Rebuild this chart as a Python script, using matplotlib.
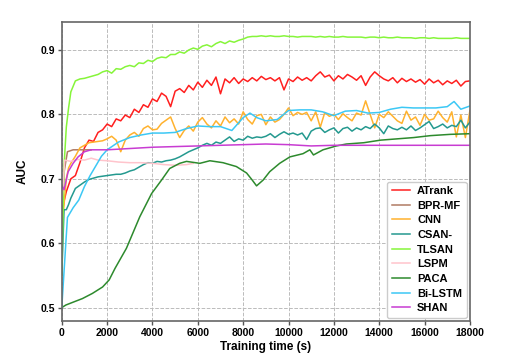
import numpy as np
import matplotlib
matplotlib.use('Agg')
import matplotlib.pyplot as plt

plt.rcParams['font.family'] = ['Liberation Sans', 'DejaVu Sans']
plt.rcParams['font.weight'] = 'bold'

# noisy series share one time grid: a few early points, then every 200 s
t_early = [0, 100, 200, 300, 400, 600, 800]
t_grid = t_early + list(range(1000, 18001, 200))

atrank = [0.640, 0.665, 0.680, 0.690, 0.700, 0.705, 0.725,
          0.748, 0.760, 0.758, 0.772, 0.776, 0.785, 0.781, 0.793, 0.790, 0.799,
          0.795, 0.808, 0.803, 0.815, 0.811, 0.824, 0.820, 0.833, 0.828, 0.812,
          0.836, 0.840, 0.834, 0.845, 0.838, 0.850, 0.842, 0.853, 0.845, 0.858,
          0.832, 0.855, 0.849, 0.857, 0.848, 0.855, 0.851, 0.857, 0.852, 0.859,
          0.854, 0.857, 0.852, 0.857, 0.838, 0.855, 0.851, 0.858, 0.853, 0.857,
          0.852, 0.860, 0.866, 0.858, 0.861, 0.852, 0.860, 0.855, 0.862, 0.858,
          0.853, 0.860, 0.845, 0.858, 0.866, 0.860, 0.855, 0.852, 0.857, 0.849,
          0.856, 0.851, 0.855, 0.850, 0.854, 0.847, 0.855, 0.849, 0.853, 0.846,
          0.852, 0.848, 0.853, 0.844, 0.851, 0.852]

cnn = [0.620, 0.660, 0.700, 0.717, 0.724, 0.735, 0.748,
       0.752, 0.756, 0.757, 0.758, 0.759, 0.762, 0.766, 0.760, 0.742, 0.760,
       0.768, 0.772, 0.766, 0.778, 0.782, 0.776, 0.777, 0.786, 0.791, 0.796,
       0.778, 0.764, 0.775, 0.782, 0.774, 0.788, 0.795, 0.785, 0.779, 0.790,
       0.782, 0.796, 0.787, 0.793, 0.785, 0.804, 0.792, 0.785, 0.798, 0.800,
       0.784, 0.796, 0.788, 0.792, 0.800, 0.810, 0.798, 0.803, 0.800, 0.803,
       0.790, 0.804, 0.780, 0.803, 0.797, 0.800, 0.792, 0.801, 0.795, 0.790,
       0.802, 0.799, 0.821, 0.800, 0.779, 0.800, 0.795, 0.804, 0.797, 0.790,
       0.786, 0.805, 0.791, 0.796, 0.783, 0.800, 0.791, 0.793, 0.805, 0.795,
       0.788, 0.804, 0.765, 0.799, 0.764, 0.806]

csan = [0.550, 0.652, 0.652, 0.660, 0.670, 0.685, 0.690,
        0.695, 0.699, 0.701, 0.703, 0.704, 0.705, 0.706, 0.707, 0.707, 0.709,
        0.712, 0.714, 0.718, 0.722, 0.725, 0.724, 0.727, 0.726, 0.728, 0.729,
        0.731, 0.734, 0.738, 0.742, 0.745, 0.748, 0.752, 0.755, 0.752, 0.757,
        0.755, 0.760, 0.765, 0.758, 0.762, 0.760, 0.766, 0.763, 0.765, 0.764,
        0.766, 0.770, 0.764, 0.769, 0.773, 0.769, 0.771, 0.768, 0.771, 0.761,
        0.774, 0.778, 0.779, 0.772, 0.776, 0.779, 0.771, 0.778, 0.780, 0.774,
        0.779, 0.776, 0.781, 0.778, 0.785, 0.779, 0.770, 0.782, 0.778, 0.776,
        0.780, 0.776, 0.782, 0.775, 0.779, 0.784, 0.789, 0.778, 0.781, 0.785,
        0.779, 0.783, 0.781, 0.791, 0.779, 0.788]

tlsan = [0.550, 0.720, 0.780, 0.810, 0.835, 0.852, 0.855,
         0.856, 0.858, 0.860, 0.862, 0.866, 0.868, 0.864, 0.871, 0.870, 0.874,
         0.876, 0.874, 0.880, 0.879, 0.884, 0.882, 0.887, 0.889, 0.888, 0.893,
         0.893, 0.897, 0.895, 0.900, 0.903, 0.901, 0.906, 0.908, 0.905, 0.910,
         0.913, 0.910, 0.914, 0.912, 0.915, 0.917, 0.920, 0.921, 0.921, 0.922,
         0.921, 0.922, 0.921, 0.921, 0.922, 0.921, 0.921, 0.920, 0.921, 0.921,
         0.921, 0.920, 0.921, 0.920, 0.921, 0.920, 0.920, 0.921, 0.920, 0.920,
         0.920, 0.920, 0.919, 0.920, 0.920, 0.919, 0.920, 0.919, 0.919, 0.920,
         0.919, 0.919, 0.919, 0.918, 0.919, 0.919, 0.918, 0.919, 0.918, 0.918,
         0.918, 0.918, 0.919, 0.918, 0.918, 0.918]

t_bpr = [0, 100, 250, 500, 800, 1100, 1300]
bpr = [0.620, 0.710, 0.742, 0.745, 0.745, 0.745, 0.745]

t_lspm = [0, 130, 400, 700, 1000, 1300, 1600, 2000, 2500, 3000, 3500, 4000, 4500, 5000, 5500, 5800]
lspm = [0.660, 0.729, 0.727, 0.730, 0.729, 0.732, 0.729, 0.728, 0.726, 0.725,
        0.725, 0.724, 0.722, 0.721, 0.722, 0.724]

t_paca = [0, 180, 470, 910, 1350, 1800, 2090, 2350, 2850, 3440,
          3960, 4400, 4760, 5200, 5500, 6090, 6530, 7110, 7700, 8150,
          8400, 8590, 8880, 9170, 9610, 10060, 10640, 10940, 11100, 11520,
          12110, 12550, 13320, 14060, 15520, 16260, 17140, 18000]
paca = [0.500, 0.504, 0.508, 0.514, 0.522, 0.532, 0.543, 0.561, 0.592, 0.641,
        0.677, 0.698, 0.716, 0.724, 0.727, 0.724, 0.728, 0.725, 0.719, 0.709,
        0.698, 0.689, 0.698, 0.711, 0.724, 0.734, 0.739, 0.745, 0.737, 0.745,
        0.751, 0.754, 0.756, 0.760, 0.764, 0.767, 0.769, 0.770]

t_bilstm = [0, 250, 500, 750, 1000, 1250, 1500, 1750, 2000,
            2500, 3000, 3500, 4000, 4500, 5000, 5500, 6000, 6500, 7000, 7500, 8000,
            8300, 8600,
            9000, 9500, 10000, 10500, 11000, 11500, 12000, 12500, 13000, 13500,
            14000, 14500, 15000, 15500, 16000, 16500, 17000,
            17300, 17600, 18000]
bilstm = [0.500, 0.640, 0.655, 0.667, 0.688, 0.705, 0.720, 0.735, 0.745,
          0.757, 0.764, 0.768, 0.771, 0.771, 0.772, 0.778, 0.782, 0.781, 0.781, 0.775, 0.795,
          0.802, 0.795,
          0.790, 0.792, 0.806, 0.807, 0.807, 0.804, 0.798, 0.805, 0.806, 0.802,
          0.803, 0.808, 0.811, 0.810, 0.810, 0.810, 0.812,
          0.820, 0.808, 0.813]

t_shan = [0, 100, 280, 500, 720, 1000, 1300, 2000, 3000, 4000, 5000, 6000,
          7000, 8000, 9000, 10000, 11000, 12000, 14000, 16000, 18000]
shan = [0.690, 0.683, 0.711, 0.724, 0.734, 0.742, 0.745, 0.745, 0.747, 0.749,
        0.750, 0.751, 0.752, 0.753, 0.754, 0.753, 0.751, 0.752, 0.752, 0.752, 0.752]

series = [
    ('ATrank', t_grid, atrank, '#ff1f1f'),
    ('BPR-MF', t_bpr, bpr, '#b07b63'),
    ('CNN', t_grid, cnn, '#ffb22e'),
    ('CSAN-', t_grid, csan, '#24998f'),
    ('TLSAN', t_grid, tlsan, '#86f53a'),
    ('LSPM', t_lspm, lspm, '#ffc4cc'),
    ('PACA', t_paca, paca, '#2d8a2d'),
    ('Bi-LSTM', t_bilstm, bilstm, '#3cc8f5'),
    ('SHAN', t_shan, shan, '#c83cd2'),
]

fig, ax = plt.subplots(figsize=(5.28, 3.6), dpi=100)
fig.subplots_adjust(left=0.117, right=0.890, top=0.939, bottom=0.108)

for name, t, v, c in series:
    ax.plot(t, v, '-', color=c, lw=1.1, label=name)

ax.set_xlim(0, 18000)
ax.set_ylim(0.479, 0.9435)
ax.set_xticks(range(0, 18001, 2000))
ax.set_yticks([0.5, 0.6, 0.7, 0.8, 0.9])
ax.grid(True, ls='--', lw=0.7, color='#bbbbbb')
ax.tick_params(labelsize=7.5, length=3, width=1, color='#555555', pad=2)
for sp in ax.spines.values():
    sp.set_color('#666666')
    sp.set_linewidth(1.2)

ax.set_xlabel('Training time (s)', fontsize=8.5, fontweight='bold', labelpad=2)
ax.set_ylabel('AUC', fontsize=8.5, fontweight='bold', labelpad=8)

ax.legend(loc='lower right', fontsize=8, handlelength=1.7, handletextpad=0.6,
          labelspacing=0.42, borderaxespad=0.3, edgecolor='#cccccc', framealpha=1)

plt.savefig('out.png', dpi=100)
